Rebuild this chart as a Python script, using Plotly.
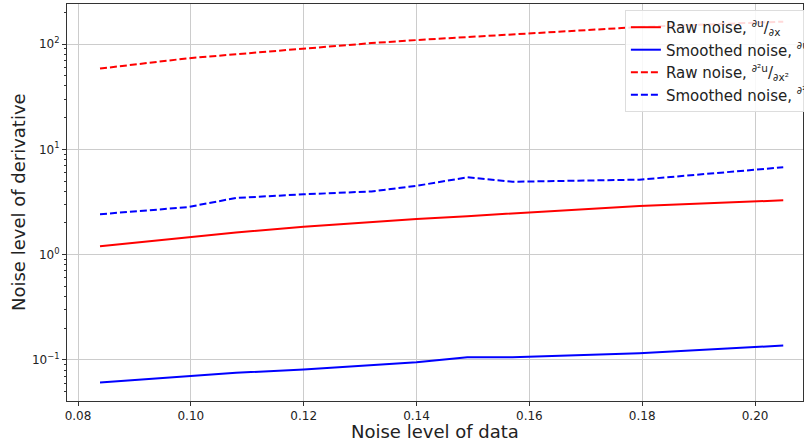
import plotly.graph_objects as go

noise_level = [0.0839, 0.0993, 0.108, 0.120, 0.132, 0.140, 0.149, 0.157, 0.1795, 0.205]
raw_d1 = [1.20, 1.46, 1.62, 1.84, 2.05, 2.18, 2.32, 2.47, 2.90, 3.28]
smooth_d1 = [0.0609, 0.070, 0.0755, 0.081, 0.089, 0.095, 0.106, 0.106, 0.116, 0.137]
raw_d2 = [58.5, 73, 80, 91, 102, 109, 116, 124, 145, 163]
smooth_d2 = [2.42, 2.82, 3.45, 3.74, 3.98, 4.5, 5.42, 4.92, 5.15, 6.75]

def frac(num, den):
    return "<sup>" + num + "</sup>/<sub>" + den + "</sub>"

names = [
    "Raw noise, " + frac("∂u", "∂x"),
    "Smoothed noise, " + frac("∂u", "∂x"),
    "Raw noise, " + frac("∂²u", "∂x²"),
    "Smoothed noise, " + frac("∂²u", "∂x²"),
]
y_tick_vals = [0.1, 1, 10, 100]
y_tick_text = ["10<sup>−1</sup>", "10<sup>0</sup>", "10<sup>1</sup>", "10<sup>2</sup>"]
y_minor_vals = [k * 10.0 ** e for e in range(-2, 3) for k in range(2, 10)]
x_tick_vals = [0.08, 0.10, 0.12, 0.14, 0.16, 0.18, 0.20]

fig = go.Figure()
series = [(raw_d1, "#ff0000", "solid"), (smooth_d1, "#0000ff", "solid"),
          (raw_d2, "#ff0000", "7px,3px"), (smooth_d2, "#0000ff", "7px,3px")]
for (vals, col, dash), nm in zip(series, names):
    fig.add_trace(go.Scatter(x=noise_level, y=vals, mode="lines", name=nm,
                             line=dict(color=col, width=2, dash=dash)))

fig.update_layout(
    width=804, height=443,
    margin=dict(l=67, r=1, t=4, b=42, autoexpand=False),
    paper_bgcolor="white", plot_bgcolor="white",
    font=dict(family="DejaVu Sans", color="#222222", size=12),
    legend=dict(x=0.758, y=0.985, xanchor="left", yanchor="top",
                bgcolor="rgba(255,255,255,0.85)", bordercolor="#dddddd", borderwidth=1,
                font=dict(size=15, color="#222222"), itemwidth=30, tracegroupgap=0),
    annotations=[
        dict(text="Noise level of data", xref="paper", yref="paper", x=0.5, y=0,
             yshift=-18, xanchor="center", yanchor="top", showarrow=False,
             font=dict(size=18)),
        dict(text="Noise level of derivative", xref="paper", yref="paper", x=0, y=0.5,
             xshift=-36, xanchor="right", yanchor="middle", textangle=-90,
             showarrow=False, font=dict(size=18)),
    ],
)
fig.update_xaxes(
    range=[0.07805, 0.2085], tickvals=x_tick_vals, tickformat=".2f", automargin=False,
    showgrid=True, gridcolor="#cccccc", gridwidth=1,
    showline=True, linecolor="#333333", linewidth=1, mirror=True,
    ticks="outside", ticklen=4, tickcolor="#333333",
    zeroline=False,
)
fig.update_yaxes(
    type="log", range=[-1.39, 2.38], tickvals=y_tick_vals, ticktext=y_tick_text,
    automargin=False,
    showgrid=True, gridcolor="#cccccc", gridwidth=1,
    showline=True, linecolor="#333333", linewidth=1, mirror=True,
    ticks="outside", ticklen=4, tickcolor="#333333",
    minor=dict(tickvals=y_minor_vals, ticks="outside", ticklen=2,
               tickcolor="#333333", showgrid=False),
    zeroline=False,
)
fig.write_html("out.html", config={"displayModeBar": False},
               post_script="document.body.style.margin='0';")
